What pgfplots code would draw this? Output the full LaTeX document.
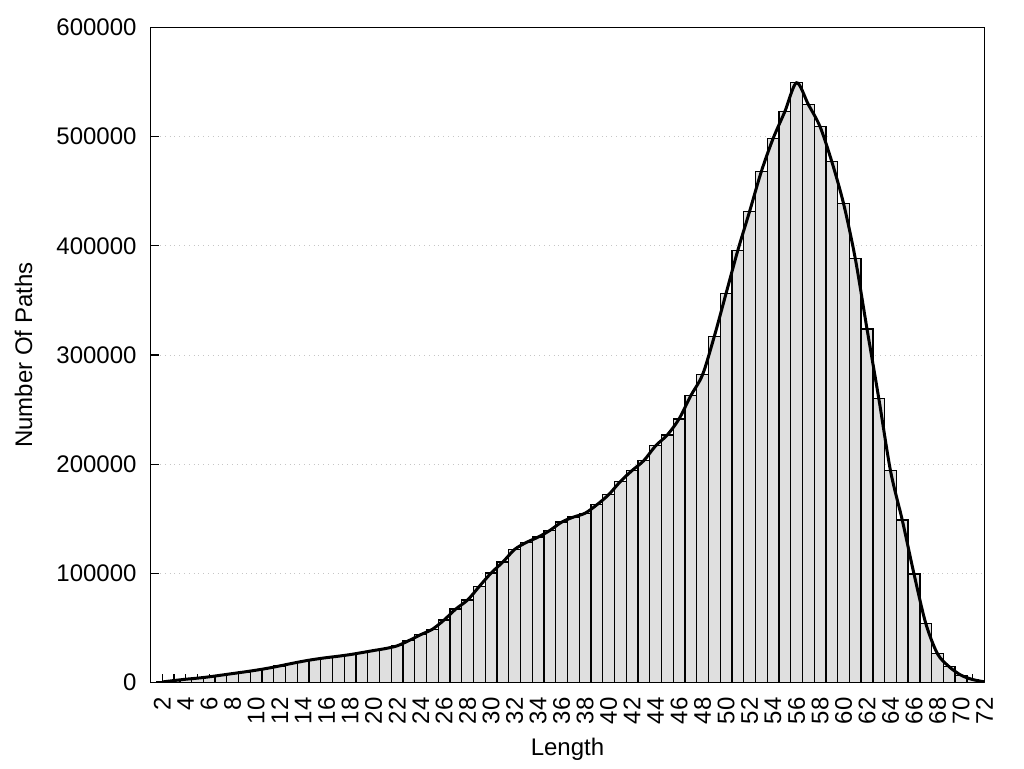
\documentclass[border=0pt]{standalone}
\usepackage{fontspec}
\setmainfont{Liberation Sans}
\usepackage{pgfplots}
\usepackage{pgfplotstable}
\pgfplotsset{compat=1.18}
\pgfplotstableread{
x y
2 500
3 1800
4 3000
5 4000
6 5200
7 6700
8 8200
9 9700
10 11300
11 13100
12 15200
13 17400
14 19500
15 21300
16 22800
17 24100
18 25600
19 27400
20 29300
21 31100
22 33600
23 38400
24 43800
25 48800
26 57300
27 67400
28 75600
29 88100
30 100300
31 110400
32 121900
33 128300
34 133200
35 139300
36 146900
37 151500
38 155100
39 162800
40 172000
41 184100
42 194200
43 203300
44 216800
45 226800
46 241500
47 262800
48 282000
49 317100
50 356400
51 395800
52 431400
53 468000
54 498200
55 522900
56 549400
57 529600
58 509200
59 477200
60 438800
61 388400
62 323800
63 260400
64 193900
65 148800
66 99400
67 54200
68 26300
69 14400
70 6700
71 2700
72 600
}\datatable
\begin{document}
\fontsize{12}{14.4}\selectfont
\begin{tikzpicture}
\useasboundingbox (-75.25pt,-42.75pt) rectangle (436.75pt,341.25pt);
\begin{axis}[
  at={(0,0)}, anchor=south west,
  scale only axis, width=417pt, height=327.5pt,
  xmin=1, xmax=72, ymin=0, ymax=600000,
  xtick={2,4,...,72}, minor xtick={3,5,...,71},
  ytick={0,100000,200000,300000,400000,500000,600000},
  yticklabels={0,100000,200000,300000,400000,500000,600000},
  tick align=inside, xtick pos=bottom, ytick pos=left,
  major tick length=4.5pt, minor tick length=4.5pt,
  tick style={black, line width=0.6pt},
  ymajorgrids, major grid style={dotted, gray!45, line width=0.5pt},
  axis line style={line width=0.65pt},
  /pgf/number format/assume math mode=true,
  xticklabel style={yshift=-3.2pt, rotate=90, anchor=east},
  yticklabel style={xshift=-2.8pt},
  xlabel={Length}, ylabel={Number Of Paths},
  every axis x label/.style={at={(axis description cs:0.5,0)}, yshift=-33.25pt, anchor=center},
  every axis y label/.style={at={(axis description cs:0,0.5)}, xshift=-63.5pt, rotate=90, anchor=center},
  scaled y ticks=false,
]
\addplot[ybar, bar width=1, bar shift=0pt, fill=gray!25, draw=black, line width=0.65pt] table[x=x,y=y]{\datatable};
\addplot[smooth, black, line width=1.5pt, no marks] table[x=x,y=y]{\datatable};
\end{axis}
\end{tikzpicture}
\end{document}
